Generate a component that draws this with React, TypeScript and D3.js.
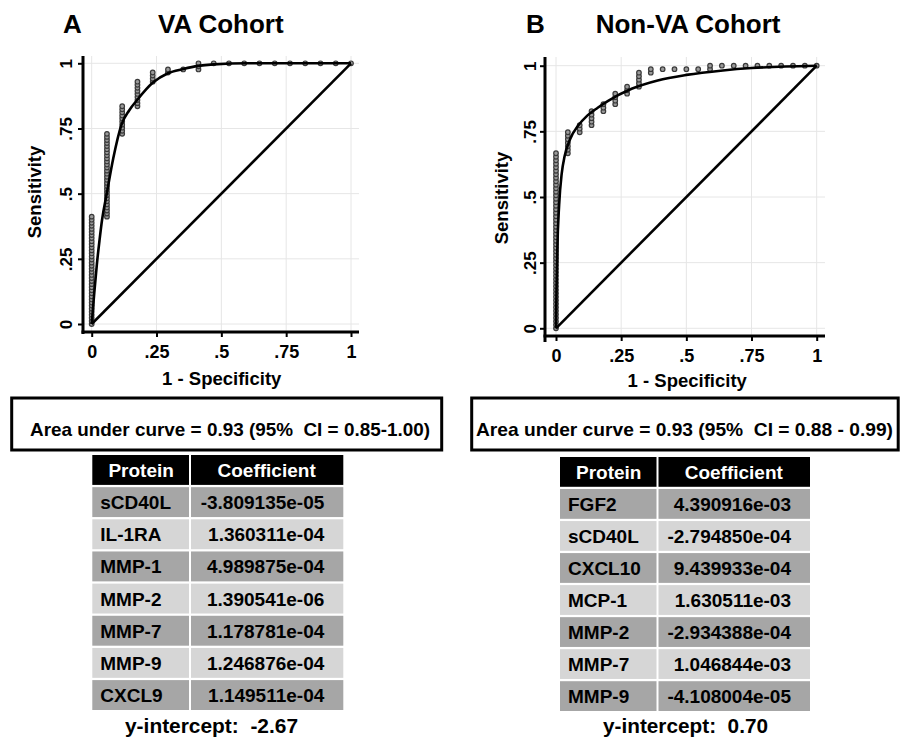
import { useEffect, useRef } from "react";
import * as d3 from "d3";

// shared axis ticks
const tickValues = [0, 0.25, 0.5, 0.75, 1];
const tickLabels = ["0", ".25", ".5", ".75", "1"];
const diagonal: [number, number][] = [[0, 0], [1, 1]];

// VA cohort: controls / cases and cumulative true positives at each false-positive count
const vaControls = 17;
const vaCases = 85;
const vaTruePos = [35, 62, 71, 79, 82, 83, 83, 85, 85, 85, 85, 85, 85, 85, 85, 85, 85, 85];
const vaFit: [number, number][] = [
  [0, 0], [0.01, 0.12], [0.02, 0.23], [0.03, 0.32], [0.04, 0.4], [0.058, 0.5], [0.083, 0.635],
  [0.115, 0.765], [0.145, 0.82], [0.176, 0.86], [0.235, 0.925], [0.294, 0.962], [0.353, 0.978],
  [0.41, 0.99], [0.47, 0.996], [0.6, 1], [1, 1],
];
const vaProteins = ["sCD40L", "IL-1RA", "MMP-1", "MMP-2", "MMP-7", "MMP-9", "CXCL9"];
const vaCoefs = ["-3.809135e-05", "1.360311e-04", "4.989875e-04", "1.390541e-06", "1.178781e-04", "1.246876e-04", "1.149511e-04"];

// Non-VA cohort
const nonVaControls = 22;
const nonVaCases = 75;
const nonVaTruePos = [50, 56, 58, 62, 64, 67, 69, 73, 74, 74, 74, 74, 74, 75, 75, 75, 75, 75, 75, 75, 75, 75, 75];
const nonVaFit: [number, number][] = [
  [0, 0], [0.002, 0.15], [0.005, 0.3], [0.012, 0.47], [0.022, 0.59], [0.033, 0.655], [0.054, 0.72],
  [0.086, 0.773], [0.12, 0.81], [0.16, 0.84], [0.2, 0.866], [0.29, 0.912], [0.39, 0.944],
  [0.5, 0.965], [0.64, 0.982], [0.75, 0.991], [0.88, 0.997], [1, 1],
];
const nonVaProteins = ["FGF2", "sCD40L", "CXCL10", "MCP-1", "MMP-2", "MMP-7", "MMP-9"];
const nonVaCoefs = ["4.390916e-03", "-2.794850e-04", "9.439933e-04", "1.630511e-03", "-2.934388e-04", "1.046844e-03", "-4.108004e-05"];

const FONT = "'Liberation Sans', Arial, Helvetica, sans-serif";

const panels = [
  {
    letter: "A", title: "VA Cohort", letterX: 63, titleX: 158, titleY: 33,
    x0: 91.7, x1: 351, y0: 324, y1: 63.3,
    axisX: 83, axisY: 332, right: 359, top: 56, yAxisBottom: 334,
    yLabX: 11, xLabY: 26, sensX: 41, sensY: 192, specX: 221.7, specY: 385,
    controls: vaControls, cases: vaCases, truePos: vaTruePos, fit: vaFit,
    auc: "Area under curve = 0.93 (95%  CI = 0.85-1.00)", boxX: 11.7, boxW: 430, aucX: 30, aucW: 400,
    proteins: vaProteins, coefs: vaCoefs, tLeft: 92.3, tSplit: 190, tRight: 343.3, tTop: 455, tBottom: 710,
    intercept: "y-intercept:  -2.67", intX: 125, intW: 173,
  },
  {
    letter: "B", title: "Non-VA Cohort", letterX: 526, titleX: 595.7, titleY: 32.5,
    x0: 556, x1: 816.7, y0: 328.3, y1: 65.7,
    axisX: 545, axisY: 336, right: 825, top: 57, yAxisBottom: 342,
    yLabX: 9, xLabY: 26, sensX: 508, sensY: 198, specX: 687.2, specY: 387,
    controls: nonVaControls, cases: nonVaCases, truePos: nonVaTruePos, fit: nonVaFit,
    auc: "Area under curve = 0.93 (95%  CI = 0.88 - 0.99)", boxX: 471.7, boxW: 426.5, aucX: 476, aucW: 417,
    proteins: nonVaProteins, coefs: nonVaCoefs, tLeft: 560, tSplit: 657.5, tRight: 810, tTop: 457, tBottom: 711,
    intercept: "y-intercept:  0.70", intX: 603, intW: 165,
  },
];

function drawPanel(svg: any, p: any) {
  const g = svg.append("g").attr("font-family", FONT).attr("font-weight", "bold");
  const x = d3.scaleLinear().domain([0, 1]).range([p.x0, p.x1]);
  const y = d3.scaleLinear().domain([0, 1]).range([p.y0, p.y1]);

  // Titles
  g.append("text").attr("x", p.letterX).attr("y", p.titleY).attr("font-size", 26).text(p.letter);
  g.append("text").attr("x", p.titleX).attr("y", p.titleY).attr("font-size", 26).text(p.title);

  // Gridlines
  g.append("g").selectAll("line").data(tickValues).enter().append("line")
    .attr("x1", p.axisX).attr("x2", p.right)
    .attr("y1", (d: number) => y(d)).attr("y2", (d: number) => y(d))
    .attr("stroke", "#e6e6e6").attr("stroke-width", 1);
  g.append("g").selectAll("line").data(tickValues).enter().append("line")
    .attr("x1", (d: number) => x(d)).attr("x2", (d: number) => x(d))
    .attr("y1", p.top).attr("y2", p.axisY)
    .attr("stroke", "#e6e6e6").attr("stroke-width", 1);

  // Empirical ROC points
  const pts: [number, number][] = [];
  p.truePos.forEach((tp: number, k: number) => {
    const start = k === 0 ? 0 : p.truePos[k - 1];
    for (let t = start; t <= tp; t++) pts.push([k / p.controls, t / p.cases]);
  });
  g.append("g").selectAll("circle").data(pts).enter().append("circle")
    .attr("cx", (d: [number, number]) => x(d[0]))
    .attr("cy", (d: [number, number]) => y(d[1]))
    .attr("r", 2.3)
    .attr("fill", "#9a9a9a")
    .attr("stroke", "#3a3a3a")
    .attr("stroke-width", 1.2);

  // Fitted curve + reference line
  const line = d3.line<[number, number]>().x(d => x(d[0])).y(d => y(d[1]));
  g.append("path").attr("d", line.curve(d3.curveMonotoneX)(p.fit))
    .attr("fill", "none").attr("stroke", "#000").attr("stroke-width", 2.6);
  g.append("path").attr("d", d3.line<[number, number]>().x(d => x(d[0])).y(d => y(d[1]))(diagonal))
    .attr("fill", "none").attr("stroke", "#000").attr("stroke-width", 2.6);

  // Axes
  const yAxis = d3.axisLeft(y).tickValues(tickValues)
    .tickFormat((d, i) => tickLabels[i]).tickSize(5).tickSizeOuter(0);
  const ya = g.append("g").attr("transform", `translate(${p.axisX},0)`).call(yAxis);
  ya.select(".domain").remove();
  ya.selectAll("line").attr("stroke", "#000").attr("stroke-width", 2);
  ya.selectAll("text")
    .attr("transform", "rotate(-90)")
    .attr("x", 0).attr("y", -p.yLabX).attr("dy", 0)
    .attr("text-anchor", "middle")
    .attr("font-family", FONT).attr("font-weight", "bold").attr("font-size", 17).attr("fill", "#000");

  const xAxis = d3.axisBottom(x).tickValues(tickValues)
    .tickFormat((d, i) => tickLabels[i]).tickSize(5).tickSizeOuter(0);
  const xa = g.append("g").attr("transform", `translate(0,${p.axisY})`).call(xAxis);
  xa.select(".domain").remove();
  xa.selectAll("line").attr("stroke", "#000").attr("stroke-width", 2);
  xa.selectAll("text")
    .attr("y", p.xLabY).attr("dy", 0)
    .attr("font-family", FONT).attr("font-weight", "bold").attr("font-size", 18).attr("fill", "#000");

  g.append("line").attr("x1", p.axisX).attr("x2", p.axisX).attr("y1", p.top).attr("y2", p.yAxisBottom)
    .attr("stroke", "#000").attr("stroke-width", 3);
  g.append("line").attr("x1", p.axisX - 1.5).attr("x2", p.right).attr("y1", p.axisY).attr("y2", p.axisY)
    .attr("stroke", "#000").attr("stroke-width", 3);

  // Axis titles
  g.append("text").attr("transform", `translate(${p.sensX},${p.sensY}) rotate(-90)`)
    .attr("text-anchor", "middle").attr("font-size", 18.5).text("Sensitivity");
  g.append("text").attr("x", p.specX).attr("y", p.specY)
    .attr("text-anchor", "middle").attr("font-size", 18.5).text("1 - Specificity");

  // AUC box
  g.append("rect").attr("x", p.boxX).attr("y", 398).attr("width", p.boxW).attr("height", 52)
    .attr("fill", "#fff").attr("stroke", "#000").attr("stroke-width", 3);
  g.append("text").attr("x", p.aucX).attr("y", 436).attr("font-size", 19)
    .attr("textLength", p.aucW).attr("lengthAdjust", "spacingAndGlyphs")
    .style("white-space", "pre").text(p.auc);

  // Coefficient table
  const rows = ["header", ...p.proteins];
  const band = d3.scaleBand().domain(rows).range([p.tTop, p.tBottom]).paddingInner(0.07);
  const tbl = g.append("g");
  const rowG = tbl.selectAll("g").data(rows).enter().append("g")
    .attr("transform", (d: string) => `translate(0,${band(d)})`);
  const fillFor = (d: string, i: number) => (i === 0 ? "#000" : i % 2 === 1 ? "#a6a6a6" : "#d6d6d6");
  rowG.append("rect").attr("x", p.tLeft).attr("width", p.tSplit - p.tLeft - 1)
    .attr("height", band.bandwidth()).attr("fill", fillFor);
  rowG.append("rect").attr("x", p.tSplit + 1).attr("width", p.tRight - p.tSplit - 1)
    .attr("height", band.bandwidth()).attr("fill", fillFor);
  const mid = band.bandwidth() / 2 + 7;
  rowG.append("text")
    .attr("x", (d: string, i: number) => (i === 0 ? (p.tLeft + p.tSplit) / 2 : p.tLeft + 8))
    .attr("y", mid)
    .attr("text-anchor", (d: string, i: number) => (i === 0 ? "middle" : "start"))
    .attr("fill", (d: string, i: number) => (i === 0 ? "#fff" : "#000"))
    .attr("font-size", 19)
    .text((d: string, i: number) => (i === 0 ? "Protein" : d));
  rowG.append("text")
    .attr("x", (d: string, i: number) => (i === 0 ? (p.tSplit + p.tRight) / 2 : p.tRight - 19))
    .attr("y", mid)
    .attr("text-anchor", (d: string, i: number) => (i === 0 ? "middle" : "end"))
    .attr("fill", (d: string, i: number) => (i === 0 ? "#fff" : "#000"))
    .attr("font-size", 19)
    .text((d: string, i: number) => (i === 0 ? "Coefficient" : p.coefs[i - 1]));

  g.append("text").attr("x", p.intX).attr("y", 733).attr("font-size", 20)
    .attr("textLength", p.intW).attr("lengthAdjust", "spacingAndGlyphs")
    .style("white-space", "pre").text(p.intercept);
}

export default function App() {
  const ref = useRef<SVGSVGElement>(null);

  useEffect(() => {
    const svg = d3.select(ref.current);
    svg.selectAll("*").remove();
    panels.forEach(p => drawPanel(svg, p));
  }, []);

  return (
    <svg
      ref={ref}
      width={901}
      height={738}
      style={{ position: "absolute", left: 0, top: 0, background: "#fff" }}
    />
  );
}
